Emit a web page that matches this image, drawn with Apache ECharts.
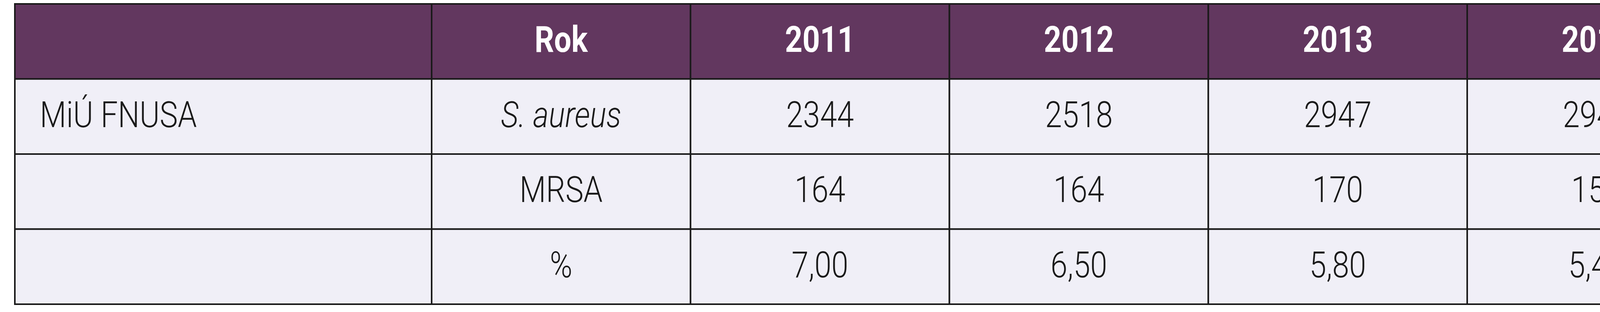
<!DOCTYPE html>
<html>
<head>
<meta charset="utf-8">
<script src="https://cdn.jsdelivr.net/npm/echarts@6/dist/echarts.min.js"></script>
<style>html,body{margin:0;padding:0;background:#fff}#chart{width:6447px;height:800px}</style>
</head>
<body>
<div id="chart"></div>
<script>
// table contents
var years = ['2011', '2012', '2013', '2014', '2015', '2016', '2017', '2018'];
var rowGroup = ['MiÚ FNUSA', '', ''];
var rowLabels = ['S. aureus', 'MRSA', '%'];
var sAureus = [2344, 2518, 2947, 2945, 2978, 3067, 3000, 3045];
var mrsa = [164, 164, 170, 159, 178, 140, 134, 137];
var percent = [7.00, 6.50, 5.80, 5.40, 6.00, 4.60, 4.50, 4.50];

var headColor = '#62375f';
var bodyColor = '#f0eff7';
var lineColor = '#1a1a1a';
var font = 'Roboto, "Liberation Sans", sans-serif';

// column edges: first column wider
function colStart(c){ return c === 0 ? 0 : 0.61 + c; }
function colEnd(c){ return c === 0 ? 1.61 : 1.61 + c; }

var cells = [];
cells.push([0, 0, '', 'head', 'center']);
cells.push([1, 0, 'Rok', 'head', 'center']);
years.forEach(function(y, i){ cells.push([i + 2, 0, y, 'head', 'center']); });
var bodyRows = [
  sAureus.map(String),
  mrsa.map(String),
  percent.map(function(v){ return v.toFixed(2).replace('.', ','); })
];
bodyRows.forEach(function(vals, r){
  cells.push([0, r + 1, rowGroup[r], 'body', 'left']);
  cells.push([1, r + 1, rowLabels[r], r === 0 ? 'italic' : 'body', 'center']);
  vals.forEach(function(v, i){ cells.push([i + 2, r + 1, v, 'body', 'center']); });
});

var chart = echarts.init(document.getElementById('chart'));
chart.setOption({
  animation: false,
  grid: { left: 38, right: 40, top: 10, bottom: 20 },
  xAxis: { type: 'value', min: 0, max: 9.61, show: false },
  yAxis: { type: 'value', min: 0, max: 4, inverse: true, show: false },
  series: [{
    type: 'custom',
    data: cells,
    renderItem: function(params, api){
      var c = api.value(0), r = api.value(1);
      var d = cells[params.dataIndex];
      var p0 = api.coord([colStart(c), r]);
      var p1 = api.coord([colEnd(c), r + 1]);
      var head = d[3] === 'head';
      var tx = d[4] === 'left' ? p0[0] + 64 : (p0[0] + p1[0]) / 2;
      var ty = (p0[1] + p1[1]) / 2 + 4;
      return {
        type: 'group',
        children: [{
          type: 'rect',
          shape: { x: p0[0], y: p0[1], width: p1[0] - p0[0], height: p1[1] - p0[1] },
          style: { fill: head ? headColor : bodyColor, stroke: lineColor, lineWidth: 4 }
        }, {
          type: 'text',
          x: tx, y: ty, scaleX: 0.85,
          style: {
            x: 0, y: 0,
            text: d[2],
            fill: head ? '#ffffff' : '#1a1a1a',
            font: (d[3] === 'italic' ? 'italic ' : '') + (head ? 'bold ' : '300 ') + '92px ' + font,
            align: d[4], verticalAlign: 'middle'
          }
        }]
      };
    }
  }]
});
</script>
</body>
</html>
